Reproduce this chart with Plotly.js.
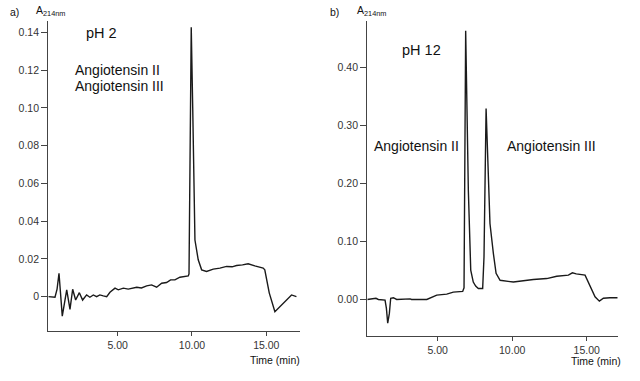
<!DOCTYPE html>
<html><head><meta charset="utf-8">
<script src="https://cdn.plot.ly/plotly-3.0.1.min.js"></script>
<style>html,body{margin:0;padding:0;background:#fff}#chart{width:640px;height:381px}</style>
</head><body><div id="chart"></div>
<script>
// Panel a (pH 2)
const timeA = [0.33,0.78,0.92,1.05,1.27,1.57,1.79,1.97,2.17,2.42,2.64,2.91,3.13,3.36,3.58,3.8,4.03,4.26,4.48,4.82,5.04,5.38,5.71,6.0,6.28,6.6,6.95,7.28,7.62,7.96,8.29,8.56,8.85,9.19,9.5,9.75,9.8,9.87,9.95,10.05,10.2,10.42,10.65,10.98,11.2,11.43,11.88,12.33,12.7,13.0,13.4,13.78,14.23,14.79,14.9,15.2,15.58,15.92,16.36,16.7,17.03];
const absA  = [0,-0.0003,0.004,0.0124,-0.0103,0.0036,-0.0067,0.0039,-0.0018,0.0021,-0.0018,0.0009,-0.0003,0.0009,0,0.0009,0.0004,0,0.0023,0.0045,0.0036,0.0045,0.004,0.0047,0.005,0.0046,0.0057,0.0062,0.005,0.0071,0.0075,0.0089,0.0089,0.0103,0.0105,0.011,0.012,0.075,0.1427,0.10,0.030,0.0195,0.0142,0.0133,0.014,0.0146,0.0151,0.016,0.0158,0.0165,0.0168,0.0174,0.0163,0.0151,0.0142,0.002,-0.008,-0.0053,-0.0018,0.0009,0];
// Panel b (pH 12)
const timeB = [0.28,0.86,1.02,1.47,1.56,1.65,1.76,1.85,2.03,2.25,3.15,3.25,4.27,4.94,5.61,6.05,6.68,6.77,6.88,6.97,7.06,7.22,7.39,7.55,7.73,8.02,8.11,8.25,8.35,8.45,8.51,8.74,8.92,9.19,10.08,11.42,12.32,12.99,13.77,14.04,14.3,14.89,15.27,15.56,15.85,16.12,16.56,17.08];
const absB  = [0,0.002,0,-0.001,-0.015,-0.041,-0.024,0.002,0.003,0,0.001,0,0,0.0074,0.0092,0.0126,0.0138,0.02,0.463,0.33,0.188,0.0505,0.030,0.023,0.019,0.019,0.073,0.329,0.26,0.188,0.131,0.079,0.045,0.033,0.030,0.0345,0.036,0.040,0.042,0.046,0.044,0.042,0.022,0.0045,-0.003,0.002,0.003,0.003];

const xTickVals = [5, 10, 15];
const xTickText = ['5.00', '10.00', '15.00'];
const yTickValsA = [0, 0.02, 0.04, 0.06, 0.08, 0.10, 0.12, 0.14];
const yTickTextA = ['0', '0.02', '0.04', '0.06', '0.08', '0.10', '0.12', '0.14'];
const yTickValsB = [0, 0.1, 0.2, 0.3, 0.4];
const yTickTextB = ['0.00', '0.10', '0.20', '0.30', '0.40'];

const lineStyle = {color: '#1a1a1a', width: 1.4};
const traces = [
  {x: timeA, y: absA, type: 'scatter', mode: 'lines', line: lineStyle, xaxis: 'x', yaxis: 'y', hoverinfo: 'skip'},
  {x: timeB, y: absB, type: 'scatter', mode: 'lines', line: lineStyle, xaxis: 'x2', yaxis: 'y2', hoverinfo: 'skip'}
];
const tickFont = {family: 'Liberation Sans, Arial, sans-serif', size: 10.5, color: '#333'};
const axBase = {showline: true, linecolor: '#444', linewidth: 1.2, showgrid: false, zeroline: false,
  ticks: 'outside', tickcolor: '#444', tickwidth: 1, tickfont: tickFont, mirror: false};
const W = 640, H = 381;
const layout = {
  width: W, height: H, margin: {l: 0, r: 0, t: 0, b: 0}, showlegend: false,
  paper_bgcolor: '#fff', plot_bgcolor: '#fff',
  xaxis: Object.assign({}, axBase, {domain: [48.3/W, 300/W], range: [0.33, 17.27], tickvals: xTickVals, ticktext: xTickText, ticklen: 4, anchor: 'y'}),
  yaxis: Object.assign({}, axBase, {domain: [(H-331)/H, (H-21)/H], range: [-0.0182, 0.146], tickvals: yTickValsA, ticktext: yTickTextA, ticklen: 6, anchor: 'x'}),
  xaxis2: Object.assign({}, axBase, {domain: [367.3/W, 617.7/W], range: [0.28, 17.08], tickvals: xTickVals, ticktext: xTickText, ticklen: 4, anchor: 'y2'}),
  yaxis2: Object.assign({}, axBase, {domain: [(H-336)/H, (H-21)/H], range: [-0.063, 0.48], tickvals: yTickValsB, ticktext: yTickTextB, ticklen: 6, anchor: 'x2'}),
  annotations: []
};
const f = 'Liberation Sans, Arial, sans-serif';
function ann(text, px, py, size, xanchor) {
  layout.annotations.push({text: text, xref: 'paper', yref: 'paper', x: px/W, y: 1 - py/H,
    xanchor: xanchor || 'left', yanchor: 'middle', showarrow: false, font: {family: f, size: size, color: '#111'}});
}
ann('a)', 8, 12, 10.5);
ann('A<sub>214nm</sub>', 34, 11, 10.5);
ann('pH 2', 84, 33, 14.5);
ann('Angiotensin II', 73, 70, 14);
ann('Angiotensin III', 73, 86, 14);
ann('Time (min)', 302, 360, 10.5, 'right');
ann('b)', 328, 12, 10.5);
ann('A<sub>214nm</sub>', 355, 11, 10.5);
ann('pH 12', 400, 50, 14.5);
ann('Angiotensin II', 372, 146, 14);
ann('Angiotensin III', 505, 146, 14);
ann('Time (min)', 623, 361, 10.5, 'right');
Plotly.newPlot('chart', traces, layout, {staticPlot: true, displayModeBar: false});
</script></body></html>
